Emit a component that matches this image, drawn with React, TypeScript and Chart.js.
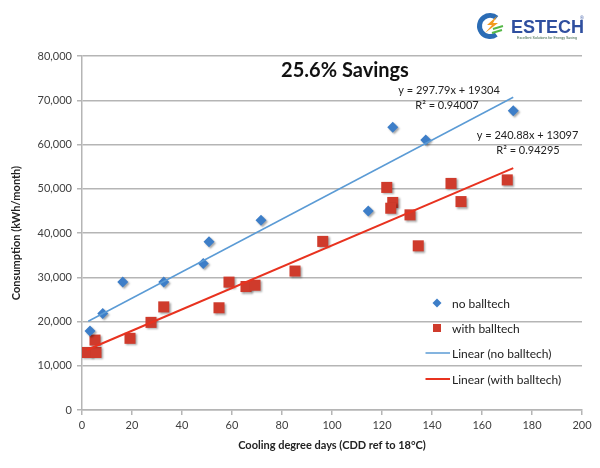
import React, { useEffect, useRef } from "react";
import { Chart, registerables } from "chart.js";

Chart.register(...registerables);

// ---- data ----
const noBallX = [3.2, 8.3, 16.3, 32.7, 48.5, 50.8, 71.6, 114.5, 124.3, 137.5, 172.5];
const noBallY = [17850, 21800, 28900, 28900, 33100, 38000, 42900, 45000, 63900, 61000, 67600];

const withBallX = [1.9, 5.6, 5.2, 19.2, 27.6, 32.7, 54.8, 58.8, 65.6, 69.2, 85.2, 96.3, 121.9, 124.3, 123.5, 131.2, 134.5, 147.6, 151.6, 170.1];
const withBallY = [13000, 13000, 15800, 16200, 19800, 23300, 23100, 28900, 27900, 28200, 31400, 38100, 50300, 46900, 45600, 44100, 37100, 51200, 47100, 52000];

// trend line end points
const trendNoX = [2.5, 172.5];
const trendNoY = [20050, 70670];
const trendWithX = [1.9, 172.5];
const trendWithY = [13550, 54650];

const seriesLabels = ["no balltech", "with balltech", "Linear (no balltech)", "Linear (with balltech)"];

const titleText = "25.6% Savings";
const eqNo = ["y = 297.79x + 19304", "R² = 0.94007"];
const eqWith = ["y = 240.88x + 13097", "R² = 0.94295"];

const xMin = 0, xMax = 200, xStep = 20;
const yMin = 0, yMax = 80000, yStep = 10000;

const BLUE = "#3d7ec8";
const RED = "#cf3b2c";
const BLUE_LINE = "#5b9bd5";
const RED_LINE = "#e8321f";
const FONT = "Lato";

const toPts = (xs: number[], ys: number[]) => xs.map((x, i) => ({ x, y: ys[i] }));

const shadowPlugin = {
  id: "shadow",
  beforeDatasetDraw(chart: any, args: any) {
    const ds = chart.data.datasets[args.index];
    if (ds.showLine) return;
    const ctx = chart.ctx;
    ctx.save();
    ctx.shadowColor = "rgba(0,0,0,0.35)";
    ctx.shadowBlur = 2;
    ctx.shadowOffsetX = 1.5;
    ctx.shadowOffsetY = 1.5;
  },
  afterDatasetDraw(chart: any, args: any) {
    const ds = chart.data.datasets[args.index];
    if (ds.showLine) return;
    chart.ctx.restore();
  },
};

const overlayPlugin = {
  id: "overlay",
  afterDraw(chart: any) {
    const ctx = chart.ctx as CanvasRenderingContext2D;
    const xs = chart.scales.x;
    const ys = chart.scales.y;
    const px = (v: number) => xs.getPixelForValue(v);
    const py = (v: number) => ys.getPixelForValue(v);
    ctx.save();
    ctx.textAlign = "center";
    ctx.textBaseline = "middle";

    // title annotation
    ctx.fillStyle = "#111";
    ctx.font = `bold 20px ${FONT}`;
    ctx.fillText(titleText, px(105.2), py(76800));

    // equations
    ctx.fillStyle = "#222";
    ctx.font = `11px ${FONT}`;
    ctx.fillText(eqNo[0], px(146.8), py(72300));
    ctx.fillText(eqNo[1], px(146.0), py(68800));
    ctx.fillText(eqWith[0], px(178.2), py(62100));
    ctx.fillText(eqWith[1], px(178.4), py(58600));

    // legend
    const lx = 437;
    const rows = [303, 328, 353, 379];
    ctx.textAlign = "left";
    ctx.font = `12px ${FONT}`;
    rows.forEach((ry, i) => {
      if (i === 0) {
        ctx.fillStyle = BLUE;
        ctx.beginPath();
        ctx.moveTo(lx, ry - 4.5);
        ctx.lineTo(lx + 4.5, ry);
        ctx.lineTo(lx, ry + 4.5);
        ctx.lineTo(lx - 4.5, ry);
        ctx.closePath();
        ctx.fill();
      } else if (i === 1) {
        ctx.fillStyle = RED;
        ctx.fillRect(lx - 4, ry - 4, 8, 8);
      } else {
        ctx.strokeStyle = i === 2 ? BLUE_LINE : RED_LINE;
        ctx.lineWidth = i === 2 ? 1.5 : 2;
        ctx.beginPath();
        ctx.moveTo(425.5, ry);
        ctx.lineTo(450, ry);
        ctx.stroke();
      }
      ctx.fillStyle = "#222";
      ctx.fillText(seriesLabels[i], 452, ry + 1);
    });

    // logo
    const cx = 490, cy = 26;
    ctx.lineCap = "butt";
    ctx.strokeStyle = "#2b6cb5";
    ctx.lineWidth = 5;
    ctx.beginPath();
    ctx.arc(cx, cy, 10.5, 0.3 * Math.PI, 1.72 * Math.PI, false);
    ctx.stroke();
    ctx.fillStyle = "#f39a1e";
    ctx.beginPath();
    ctx.moveTo(497, 16);
    ctx.lineTo(487, 25);
    ctx.lineTo(492, 25);
    ctx.lineTo(485, 33);
    ctx.lineTo(498, 23);
    ctx.lineTo(493, 23);
    ctx.closePath();
    ctx.fill();
    ctx.strokeStyle = "#55b848";
    ctx.lineWidth = 2;
    ctx.beginPath();
    ctx.moveTo(493, 29);
    ctx.lineTo(503, 26);
    ctx.moveTo(492, 33);
    ctx.lineTo(502, 30);
    ctx.stroke();

    ctx.fillStyle = "#2f4f9f";
    ctx.font = `bold 18px "Liberation Sans"`;
    ctx.textBaseline = "alphabetic";
    ctx.fillText("ESTECH", 511, 33);
    ctx.font = `5px "Liberation Sans"`;
    ctx.fillText("®", 580, 20);
    ctx.fillStyle = "#2d5a3a";
    ctx.font = `3.6px "Liberation Sans"`;
    ctx.fillText("Excellent Solutions for Energy Saving", 517, 39);
    ctx.restore();
  },
};

export default function App() {
  const ref = useRef<HTMLCanvasElement>(null);
  useEffect(() => {
    document.body.style.margin = "0";
    const gridGrey = "#b5b5b5";
    const chart = new Chart(ref.current!, {
      type: "scatter",
      data: {
        datasets: [
          {
            label: seriesLabels[2],
            data: toPts(trendNoX, trendNoY),
            showLine: true,
            borderColor: BLUE_LINE,
            borderWidth: 1.5,
            pointRadius: 0,
            order: 0,
          },
          {
            label: seriesLabels[3],
            data: toPts(trendWithX, trendWithY),
            showLine: true,
            borderColor: RED_LINE,
            borderWidth: 2,
            pointRadius: 0,
            order: 0,
          },
          {
            label: seriesLabels[0],
            data: toPts(noBallX, noBallY),
            pointStyle: "rectRot",
            pointRadius: 5.5,
            backgroundColor: BLUE,
            borderColor: BLUE,
            borderWidth: 0,
            order: 1,
          },
          {
            label: seriesLabels[1],
            data: toPts(withBallX, withBallY),
            pointStyle: "rect",
            pointRadius: 7.8,
            backgroundColor: RED,
            borderColor: RED,
            borderWidth: 0,
            order: 1,
          },
        ],
      },
      options: {
        responsive: false,
        animation: false,
        layout: { padding: { top: 56, right: 18, left: 0, bottom: 0 } },
        plugins: {
          legend: { display: false },
          tooltip: { enabled: false },
          title: { display: false },
        },
        scales: {
          x: {
            type: "linear",
            min: xMin,
            max: xMax,
            afterFit: (s: any) => { s.height = 58; },
            ticks: { stepSize: xStep, color: "#404040", font: { family: FONT, size: 11 }, padding: 4, maxRotation: 0 },
            grid: { color: "rgba(0,0,0,0)", tickColor: gridGrey, tickLength: 5, lineWidth: 1.5 },
            border: { color: gridGrey, width: 1.5 },
            title: {
              display: true,
              text: "Cooling degree days (CDD ref to 18°C)",
              color: "#222",
              font: { family: FONT, size: 11, weight: "bold" },
              padding: { top: 0, bottom: 16 },
            },
          },
          y: {
            type: "linear",
            min: yMin,
            max: yMax,
            afterFit: (s: any) => { s.width = 82; },
            ticks: {
              stepSize: yStep,
              color: "#404040",
              font: { family: FONT, size: 11 },
              padding: 5,
              callback: (v: any) => Number(v).toLocaleString("en-US"),
            },
            grid: { color: gridGrey, tickColor: gridGrey, tickLength: 5, lineWidth: 1.5 },
            border: { color: gridGrey, width: 1.5 },
            title: {
              display: true,
              text: "Consumption (kWh/month)",
              color: "#222",
              font: { family: FONT, size: 11, weight: "bold" },
              padding: { top: 10, bottom: 0 },
            },
          },
        },
      },
      plugins: [shadowPlugin, overlayPlugin],
    } as any);
    return () => chart.destroy();
  }, []);
  return (
    <div style={{ width: 600, height: 468, background: "#fff" }}>
      <canvas ref={ref} width={600} height={468} style={{ display: "block", width: 600, height: 468 }} />
    </div>
  );
}
